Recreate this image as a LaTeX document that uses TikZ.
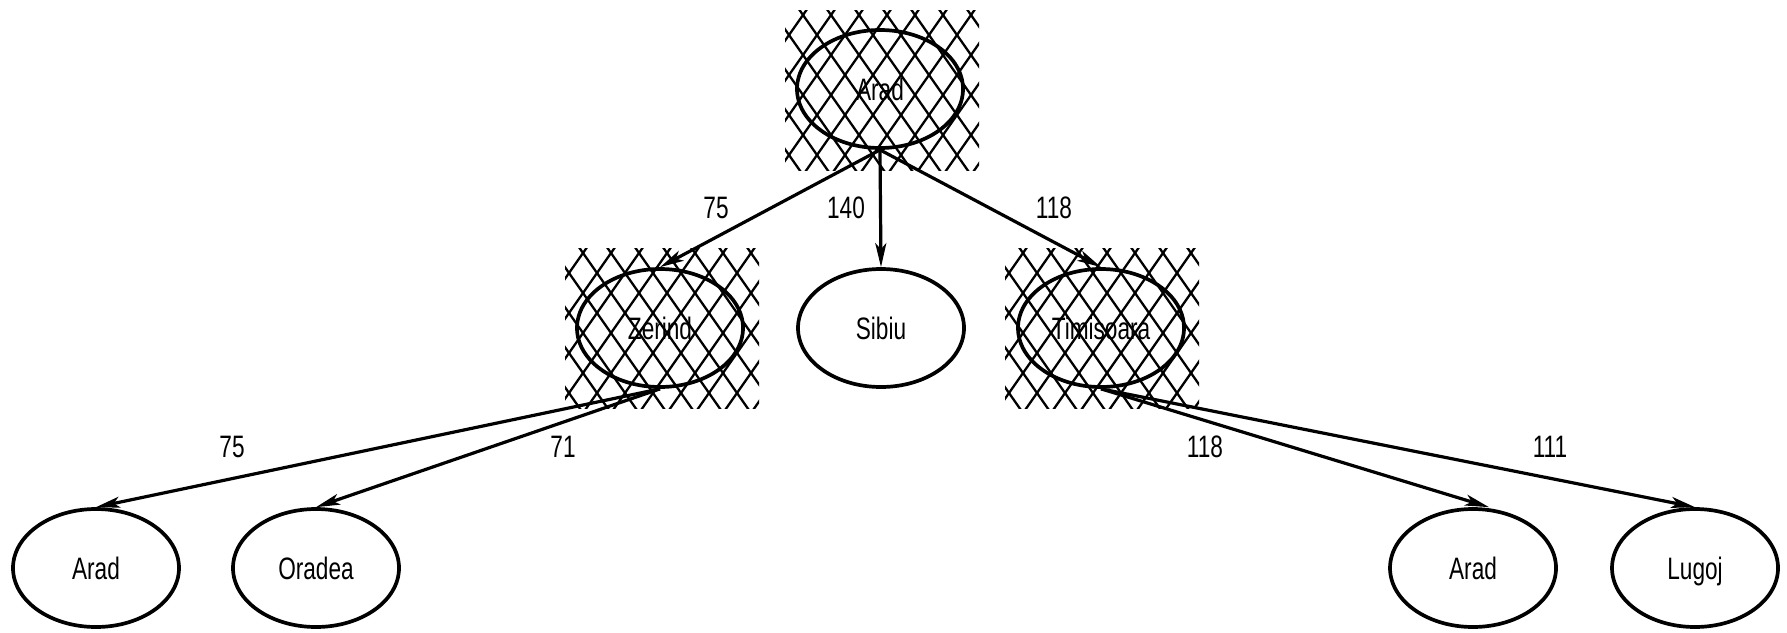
\documentclass[tikz,border=0pt]{standalone}
\usepackage{fontspec}
\setmainfont{Liberation Sans}[FakeStretch=0.73]
\usetikzlibrary{shapes.geometric,arrows.meta}
\tikzset{
  city/.style={ellipse, draw, line width=1.85pt, minimum width=83pt, minimum height=59pt, inner sep=0pt, text depth=0pt, font=\fontsize{15.5pt}{18pt}\selectfont},
  lbl/.style={inner sep=0pt, text depth=0pt, font=\fontsize{15.5pt}{18pt}\selectfont},
  edge/.style={line width=1.6pt, -{Stealth[length=12pt,width=5.5pt,inset=3pt]}},
  hatchline/.style={line width=1.15pt}
}
\newcommand{\hatchbox}[2]{%
  \begin{scope}[shift={(#1,#2)}]
    \clip (0,0) rectangle (194,160);
    \foreach \i in {-5,...,12}{
      \draw[hatchline] ({18+28*\i-14},-15) -- ({18+28*\i+126},185);
      \draw[hatchline] ({18+28*\i+14},-15) -- ({18+28*\i-126},185);
    }
  \end{scope}}
\begin{document}
\begin{tikzpicture}[x=0.5pt,y=-0.5pt]
\useasboundingbox (0,0) rectangle (1787,632);
\hatchbox{785}{10}
\hatchbox{565}{248}
\hatchbox{1005}{248}
\node[city] (A) at (880,89) {Arad};
\node[city] (Z) at (660,328) {Zerind};
\node[city] (S) at (881,328) {Sibiu};
\node[city] (T) at (1101,328) {Timisoara};
\node[city] (ZA) at (96,568) {Arad};
\node[city] (O) at (316,568) {Oradea};
\node[city] (TA) at (1473,568) {Arad};
\node[city] (L) at (1695,568) {Lugoj};
\draw[edge] (A.south) -- (Z.north);
\draw[edge] (A.south) -- (S.north);
\draw[edge] (A.south) -- (T.north);
\draw[edge] (Z.south) -- (ZA.north);
\draw[edge] (Z.south) -- (O.north);
\draw[edge] (T.south) -- ([xshift=8pt]TA.north);
\draw[edge] (T.south) -- (L.north);
\node[lbl] (l1) at (716,208) {75};
\node[lbl] (l2) at (846,208) {140};
\node[lbl] (l3) at (1054,208) {118};
\node[lbl] (l4) at (232,447) {75};
\node[lbl] (l5) at (563,447) {71};
\node[lbl] (l6) at (1205,447) {118};
\node[lbl] (l7) at (1550,447) {111};
\end{tikzpicture}
\end{document}
